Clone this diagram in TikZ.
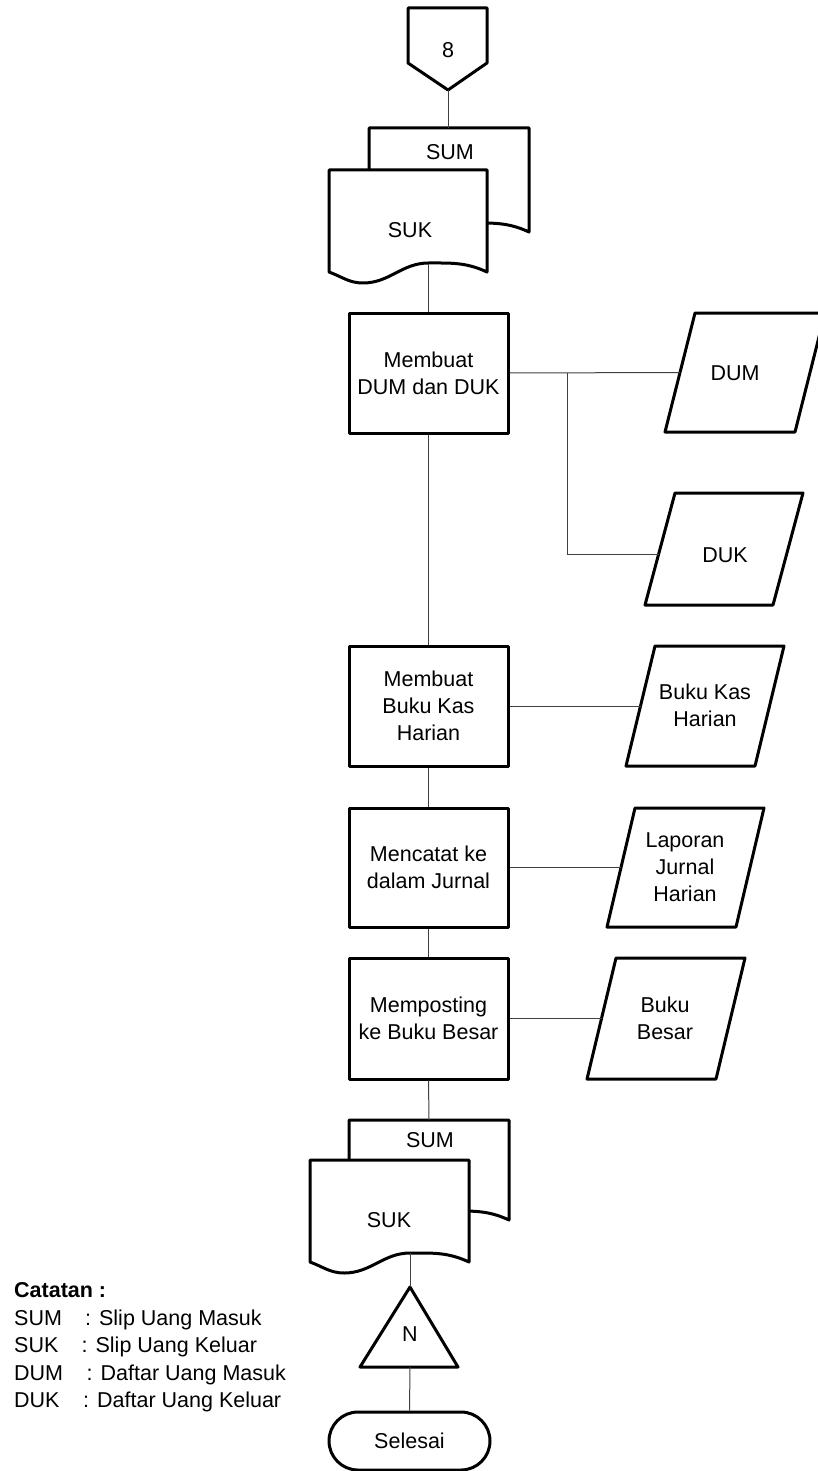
\documentclass[tikz,border=0pt]{standalone}
\usepackage{fontspec}
\setmainfont{Liberation Sans}
\usetikzlibrary{calc}

% document symbol: top-left x, top-left y, width, height down to the wave ends
\newcommand\docshape[4]{%
  \path[shapeline] (#1,{#2+#4})
    to[out=-20,in=180] ({#1+0.215*#3},{#2+#4+11})
    to[out=0,in=180] ({#1+0.63*#3},{#2+#4-9})
    to[out=0,in=155] ({#1+#3},{#2+#4})
    -- ({#1+#3},#2) -- (#1,#2) -- cycle;}

% input/output parallelogram: name, bottom-left x, bottom y, top y, slant, width
\newcommand\iobox[6]{%
  \path[shapeline] (#2,#3) coordinate (#1-bl) -- ++(#6,0)
    -- ({#2+#5+#6},#4) -- ({#2+#5},#4) coordinate (#1-tl) -- cycle;}

\begin{document}
\begin{tikzpicture}[x=1pt,y=-1pt,
  every node/.style={font=\fontsize{21.5}{27}\selectfont},
  shapeline/.style={draw=black,line width=3pt,line join=round,fill=white},
  proc/.style={shapeline,minimum width=159pt,minimum height=120pt,align=center,inner sep=0pt},
  link/.style={draw=black!75,line width=1pt},
  lbl/.style={inner sep=0pt,align=center},
  legend/.style={inner sep=0pt,anchor=base west}]

\useasboundingbox (0,0) rectangle (817,1471);

% off-page connector
\path[shapeline] (408,8) -- (487,8) -- (487,63) -- (448,90) coordinate (c8-tip) -- (408,63) -- cycle;
\node[lbl] (c8) at (448,50) {8};

% slips coming in
\docshape{369}{128}{160}{104}
\coordinate (sumA-top) at (448,128);
\node[lbl] (sumA) at (450,152) {SUM};
\docshape{329}{170}{158}{102}
\coordinate (sukA-out) at (428.5,264);
\node[lbl] (sukA) at (410,230) {SUK};

% processes
\node[proc] (p1) at (428.5,373) {Membuat\\DUM dan DUK};
\node[proc] (p2) at (428.5,706) {Membuat\\Buku Kas\\Harian};
\node[proc,minimum height=119pt] (p3) at (428.5,867.5) {Mencatat ke\\dalam Jurnal};
\node[proc,minimum height=121pt] (p4) at (428.5,1018.5) {Memposting\\ke Buku Besar};

% outputs
\iobox{dum}{665}{432}{313}{30}{130}
\node[lbl] (dumt) at (735,373) {DUM};
\iobox{duk}{645}{605}{493}{30}{128}
\node[lbl] (dukt) at (725,555) {DUK};
\iobox{bkh}{626}{766}{646}{29}{129}
\node[lbl] (bkht) at (705,705) {Buku Kas\\Harian};
\iobox{lap}{607}{927}{808}{28}{129}
\node[lbl] (lapt) at (685,867) {Laporan\\Jurnal\\Harian};
\iobox{bb}{587}{1079}{958}{29}{129}
\node[lbl] (bbt) at (665,1018) {Buku\\Besar};

\coordinate (dum-in) at ($(dum-bl)!0.5!(dum-tl)$);
\coordinate (duk-in) at ($(duk-bl)!0.455!(duk-tl)$);
\coordinate (bkh-in) at ($(bkh-bl)!0.5!(bkh-tl)$);
\coordinate (lap-in) at ($(lap-bl)!0.5!(lap-tl)$);
\coordinate (bb-in) at ($(bb-bl)!0.5!(bb-tl)$);
\coordinate (split) at (567,373);

% slips going out
\docshape{349}{1120}{160}{100}
\coordinate (sumB-top) at (429,1120);
\node[lbl] (sumB) at (430,1140) {SUM};
\docshape{310}{1160}{159}{102}
\coordinate (sukB-out) at (410,1253);
\node[lbl] (sukB) at (389,1220) {SUK};

% filing and end
\path[shapeline] (410,1287) coordinate (tri-top) -- (458,1367) -- (360,1367) -- cycle;
\coordinate (tri-bot) at (410,1367);
\node[lbl] (ntri) at (410,1334.5) {N};
\node[shapeline,rounded corners=29pt,minimum width=161pt,minimum height=58pt,inner sep=0pt]
  (end) at (409.5,1441) {Selesai};

% connectors
\draw[link] (c8-tip) -- (sumA-top);
\draw[link] (sukA-out) -- (p1.north);
\draw[link] (p1.south) -- (p2.north);
\draw[link] (p2.south) -- (p3.north);
\draw[link] (p3.south) -- (p4.north);
\draw[link] (p4.south) -- (sumB-top);
\draw[link] (sukB-out) -- (tri-top);
\draw[link] (tri-bot) -- (end.north);
\draw[link] (p1.east) -- (dum-in);
\draw[link] (split) |- (duk-in);
\draw[link] (p2.east) -- (bkh-in);
\draw[link] (p3.east) -- (lap-in);
\draw[link] (p4.east) -- (bb-in);

% legend
\node[legend,font=\fontsize{21.5}{27}\selectfont\bfseries] (cat) at (14,1297) {Catatan :};
\node[legend] (k1) at (14,1325) {SUM};
\node[legend] (v1) at (85,1325) {: Slip Uang Masuk};
\node[legend] (k2) at (14,1352.7) {SUK};
\node[legend] (v2) at (81.5,1352.7) {: Slip Uang Keluar};
\node[legend] (k3) at (14,1380) {DUM};
\node[legend] (v3) at (86.5,1380) {: Daftar Uang Masuk};
\node[legend] (k4) at (14,1407.3) {DUK};
\node[legend] (v4) at (83,1407.3) {: Daftar Uang Keluar};
\end{tikzpicture}
\end{document}
